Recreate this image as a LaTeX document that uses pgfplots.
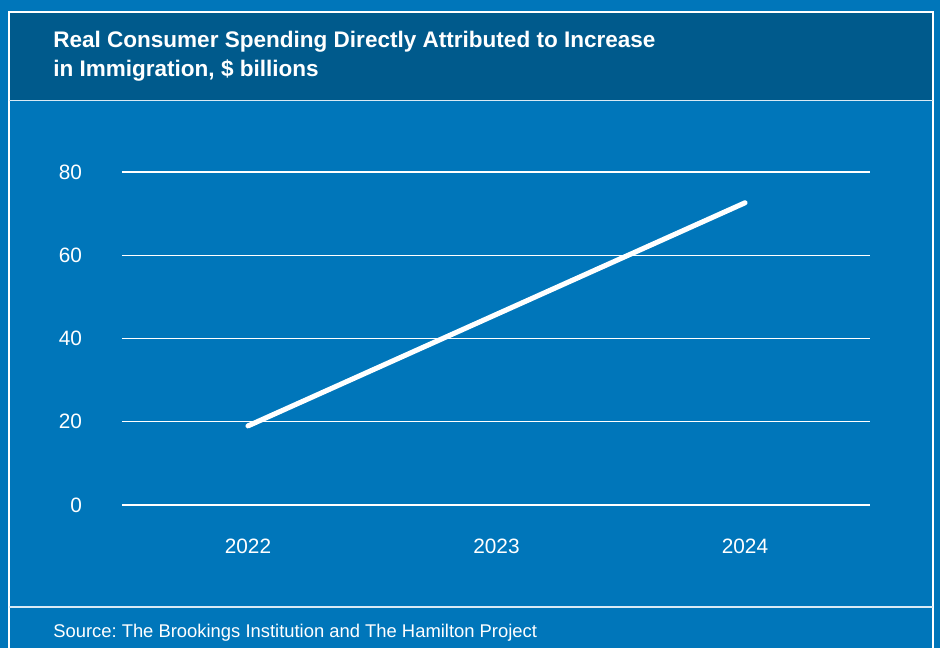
\documentclass[border=0pt]{standalone}
\usepackage{pgfplots}
\pgfplotsset{compat=1.18}
\usepackage{fontspec}
\setmainfont{Liberation Sans}
\definecolor{bgblue}{HTML}{0076BA}
\definecolor{hdblue}{HTML}{005A8C}
\frenchspacing
\begin{document}
\begin{tikzpicture}
\useasboundingbox (0pt,0pt) rectangle (705pt,486pt);
\clip (0pt,0pt) rectangle (705pt,486pt);
% background
\fill[bgblue] (0pt,0pt) rectangle (705pt,486pt);
\fill[hdblue] (6.75pt,410.6pt) rectangle (699.75pt,477pt);
\draw[white, line width=0.9pt] (6.75pt,-2pt) -- (6.75pt,477pt) -- (699.75pt,477pt) -- (699.75pt,-2pt);
\draw[white!85!bgblue, line width=1pt] (6.75pt,410.6pt) -- (699.75pt,410.6pt);
\draw[white!85!bgblue, line width=1.2pt] (6.75pt,30.75pt) -- (699.75pt,30.75pt);
% title
\node[anchor=base west, text=white, font=\fontsize{16.9}{20}\selectfont\bfseries, inner sep=0pt] at (39.75pt,450pt) {Real Consumer Spending Directly Attributed to Increase};
\node[anchor=base west, text=white, font=\fontsize{16.9}{20}\selectfont\bfseries, inner sep=0pt] at (39.75pt,428.25pt) {in Immigration, \$ billions};
% source
\node[anchor=base west, text=white, font=\fontsize{13.8}{16}\selectfont, inner sep=0pt] at (39.75pt,7.5pt) {Source: The Brookings Institution and The Hamilton Project};
\begin{axis}[
  at={(91.5pt,107.25pt)}, anchor=south west,
  width=561pt, height=249.75pt, scale only axis,
  xmin=-0.507, xmax=2.503, ymin=0, ymax=80,
  axis line style={draw=none},
  xtick={0,1,2}, xticklabels={2022,2023,2024},
  ytick={0,20,40,60,80},
  major tick length=0pt,
  ymajorgrids, grid style={white, line width=0.9pt},
  tick label style={text=white, font=\fontsize{15.6}{18}\selectfont},
  /pgf/number format/assume math mode=true,
  yticklabel style={anchor=east, xshift=-26.5pt},
  xticklabel style={yshift=-22pt},
  clip=false,
]
\addplot[white, line width=3.8pt, line cap=round] coordinates {(0,19.0) (1,45.8) (2,72.6)};
\end{axis}
\end{tikzpicture}
\end{document}
